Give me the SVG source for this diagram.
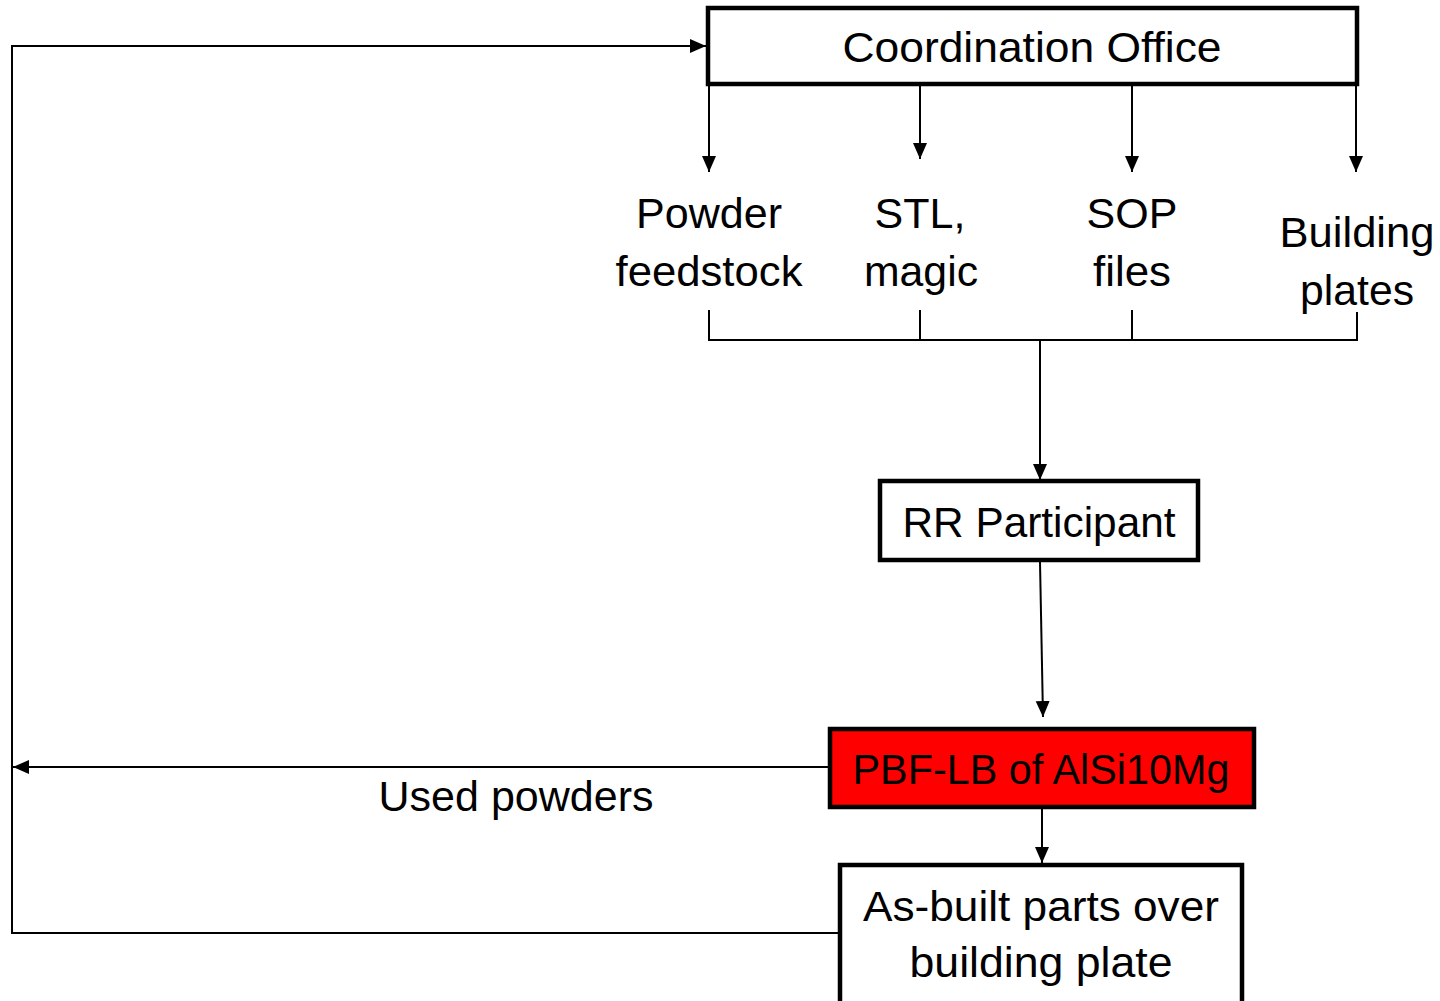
<svg xmlns="http://www.w3.org/2000/svg" width="1440" height="1001" viewBox="0 0 1440 1001">
<style>
.box{fill:#fff;stroke:#000;stroke-width:4.5}
.red{fill:#ff0000;stroke:#000;stroke-width:4.5}
.ln{fill:none;stroke:#000;stroke-width:2}
.t{font-family:"Liberation Sans",Arial,sans-serif;font-size:43px;fill:#000;text-anchor:middle}
</style>
<defs>
<marker id="ah" markerUnits="userSpaceOnUse" markerWidth="16" markerHeight="16" viewBox="0 0 16 16" refX="16" refY="8" orient="auto">
<path d="M0,1 L16,8 L0,15 Z" fill="#000"/>
</marker>
</defs>
<rect width="1440" height="1001" fill="#fff"/>
<g id="connectors">
<polyline class="ln" points="840,933 12,933 12,46 706,46" marker-end="url(#ah)"/>
<line class="ln" x1="709" y1="86" x2="709" y2="172" marker-end="url(#ah)"/>
<line class="ln" x1="920" y1="86" x2="920" y2="159" marker-end="url(#ah)"/>
<line class="ln" x1="1132" y1="86" x2="1132" y2="172" marker-end="url(#ah)"/>
<line class="ln" x1="1356" y1="86" x2="1356" y2="172" marker-end="url(#ah)"/>
<polyline class="ln" points="709,310 709,340 1357,340 1357,312"/>
<line class="ln" x1="920" y1="310" x2="920" y2="340"/>
<line class="ln" x1="1132" y1="310" x2="1132" y2="340"/>
<line class="ln" x1="1040" y1="340" x2="1040" y2="480" marker-end="url(#ah)"/>
<line class="ln" x1="1040" y1="562" x2="1043" y2="717" marker-end="url(#ah)"/>
<line class="ln" x1="1042" y1="809" x2="1042" y2="863" marker-end="url(#ah)"/>
<line class="ln" x1="829" y1="767" x2="13" y2="767" marker-end="url(#ah)"/>
<text class="t" x="516" y="811" textLength="275" lengthAdjust="spacingAndGlyphs">Used powders</text>
</g>
<g id="coordination-office">
<rect class="box" x="708" y="8" width="649" height="76"/>
<text class="t" x="1032" y="62" textLength="379" lengthAdjust="spacingAndGlyphs">Coordination Office</text>
</g>
<g id="powder-feedstock">
<text class="t" x="709" y="228" textLength="146" lengthAdjust="spacingAndGlyphs">Powder</text>
<text class="t" x="709" y="286" textLength="187" lengthAdjust="spacingAndGlyphs">feedstock</text>
</g>
<g id="stl-magic">
<text class="t" x="920" y="228">STL,</text>
<text class="t" x="921" y="286" textLength="114" lengthAdjust="spacingAndGlyphs">magic</text>
</g>
<g id="sop-files">
<text class="t" x="1132" y="228">SOP</text>
<text class="t" x="1132" y="286" textLength="78" lengthAdjust="spacingAndGlyphs">files</text>
</g>
<g id="building-plates">
<text class="t" x="1357" y="247" textLength="155" lengthAdjust="spacingAndGlyphs">Building</text>
<text class="t" x="1357" y="305" textLength="114" lengthAdjust="spacingAndGlyphs">plates</text>
</g>
<g id="rr-participant">
<rect class="box" x="880" y="481" width="318" height="79"/>
<text class="t" x="1039" y="537" textLength="273" lengthAdjust="spacingAndGlyphs">RR Participant</text>
</g>
<g id="pbf-lb">
<rect class="red" x="830" y="729" width="424" height="78"/>
<text class="t" x="1041" y="784" textLength="377" lengthAdjust="spacingAndGlyphs">PBF-LB of AlSi10Mg</text>
</g>
<g id="as-built">
<rect class="box" x="840" y="865" width="402" height="145"/>
<text class="t" x="1041" y="921" textLength="356" lengthAdjust="spacingAndGlyphs">As-built parts over</text>
<text class="t" x="1041" y="977" textLength="263" lengthAdjust="spacingAndGlyphs">building plate</text>
</g>
</svg>
